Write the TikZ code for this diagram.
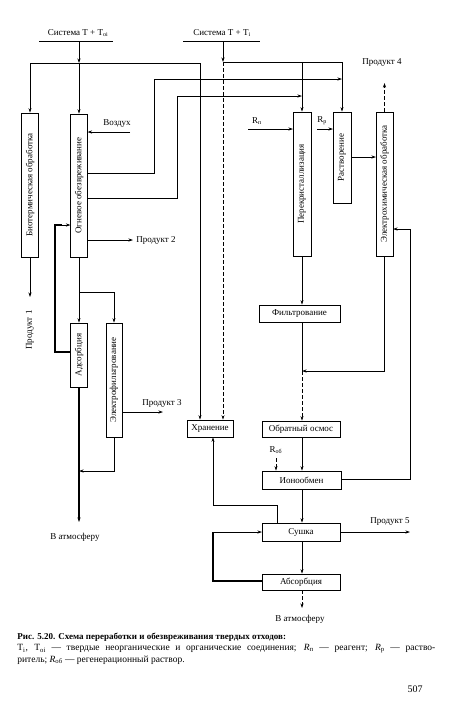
\documentclass[tikz,border=0pt]{standalone}
\usepackage{fontspec}
\setmainfont{Liberation Serif}
\usetikzlibrary{arrows.meta}
\begin{document}
\begin{tikzpicture}[x=1pt,y=-1pt,
  >={Stealth[length=4.5pt,width=3pt]},
  every path/.style={line width=0.7pt},
  lbl/.style={font=\fontsize{9}{10}\selectfont,inner sep=1pt},
  box/.style={draw,line width=0.7pt,inner sep=0pt,font=\fontsize{9}{10}\selectfont},
  vbox/.style n args={3}{box,minimum width=#1,minimum height=#2,
     label={[rotate=90,font=\fontsize{9}{10}\selectfont]center:#3}},
  hbox/.style 2 args={box,minimum width=#1,minimum height=#2},
  thk/.style={line width=1.3pt},
  dsh/.style={dash pattern=on 4pt off 2pt}]
\useasboundingbox[fill=white] (0,0) rectangle (450,705);

% boxes
\node[vbox={17pt}{144pt}{Биотермическая обработка}] (bio) at (30,185) {};
\node[vbox={17pt}{143pt}{Огневое обезвреживание}] (ogn) at (79,185.5) {};
\node[vbox={17pt}{64pt}{Адсорбция}] (ads) at (79,355) {};
\node[vbox={16pt}{114pt}{Электрофильтрование}] (elf) at (114,380) {};
\node[vbox={18pt}{144pt}{Перекристаллизация}] (perek) at (302,184) {};
\node[vbox={18pt}{91pt}{Растворение}] (rastv) at (342,157.5) {};
\node[vbox={17pt}{144pt}{Электрохимическая обработка}] (elch) at (384.5,184) {};
\node[hbox={46pt}{17pt}] (hran) at (210,428.5) {Хранение};
\node[hbox={81pt}{17pt}] (filt) at (299.5,313.5) {Фильтрование};
\node[hbox={78pt}{16pt}] (obros) at (301,429) {Обратный осмос};
\node[hbox={79pt}{18pt}] (ionob) at (301.5,480) {Ионообмен};
\node[hbox={78pt}{18pt}] (sush) at (301,532) {Сушка};
\node[hbox={78pt}{16pt}] (absorb) at (301,582) {Абсорбция};

% top inputs
\node[lbl] (sysL) at (78,33) {Система Т + Т\textsubscript{oi}};
\node[lbl] (sysR) at (222,33) {Система Т + Т\textsubscript{i}};
\coordinate (uL1) at (39,41); \coordinate (uL2) at (113,41);
\coordinate (uR1) at (183,41); \coordinate (uR2) at (260,41);
\draw (uL1) -- (uL2);
\draw (uR1) -- (uR2);

\coordinate (tL) at (79,41);
\coordinate (jL) at (79,63);
\coordinate (hL0) at (30,63);
\coordinate (hL1) at (200,63);
\draw[->] (tL) -- (jL);
\draw (hL0) -- (hL1);
\draw[->] (hL0) -- (hL0 |- bio.north);
\draw[->] (jL) -- (jL |- ogn.north);
\draw[->] (hL1) -- (hL1 |- hran.north);

\coordinate (tR) at (223,41);
\coordinate (jR) at (223,62);
\coordinate (hR1) at (342,62);
\coordinate (hR2) at (302,62);
\draw[->] (tR) -- (jR);
\draw (jR) -- (hR1);
\draw[->] (hR2) -- (perek.north);
\draw[->] (hR1) -- (rastv.north);
\draw[->,dsh] (jR) -- (jR |- hran.north);

% Огневое -> Растворение / Перекристаллизация
\coordinate (o1) at (87.5,173);
\coordinate (o1a) at (154,173);
\coordinate (o1b) at (154,79);
\coordinate (o1c) at (342,79);
\draw[->] (o1) -- (o1a) -- (o1b) -- (o1c);
\coordinate (o2) at (87.5,198);
\coordinate (o2a) at (177,198);
\coordinate (o2b) at (177,96);
\coordinate (o2c) at (302,96);
\draw[->] (o2) -- (o2a) -- (o2b) -- (o2c);

% Воздух
\coordinate (air0) at (130,132);
\coordinate (air1) at (87.5,132);
\draw[->] (air0) -- (air1);
\node[lbl] (airT) at (117,124) {Воздух};

% Продукт 2
\coordinate (p2a) at (87.5,240);
\coordinate (p2b) at (133,240);
\draw[->] (p2a) -- (p2b);
\node[lbl,anchor=west] (p2T) at (135,240) {Продукт 2};

% Продукт 1
\coordinate (p1) at (30,297);
\draw[->] (bio.south) -- (p1);
\node[lbl,rotate=90] (p1T) at (30,330) {Продукт 1};

% Огневое -> Адсорбция, Электрофильтрование
\draw[->] (ogn.south) -- (ads.north);
\coordinate (b1) at (79,292);
\coordinate (b2) at (114,292);
\draw[->] (b1) -- (b2) -- (elf.north);

% recycle Адсорбция -> Огневое
\coordinate (r0) at (70.5,352);
\coordinate (r1) at (55,352);
\coordinate (r2) at (55,225);
\coordinate (r2b) at (62,225);
\coordinate (r3) at (70.5,225);
\draw[thk] (r0) -- (r1) -- (r2) -- (r2b);
\draw[->] (r2b) -- (r3);

% Продукт 3
\coordinate (p3a) at (122,412);
\coordinate (p3b) at (163,412);
\draw[->] (p3a) -- (p3b);
\node[lbl] (p3T) at (162,403) {Продукт 3};

% Электрофильтрование -> back
\coordinate (e1) at (114,471);
\coordinate (e2) at (79,471);
\draw[->] (elf.south) -- (e1) -- (e2);

% В атмосферу (left)
\coordinate (atm1) at (79,522);
\draw[->,thk] (ads.south) -- (atm1);
\node[lbl] (atm1T) at (75,537) {В атмосферу};

% reagents
\coordinate (rn0) at (248,129);
\coordinate (rn1) at (293,129);
\draw[->] (rn0) -- (rn1);
\node[lbl] (rnT) at (257,121) {R\textsubscript{п}};
\coordinate (rp0) at (317,129);
\coordinate (rp1) at (333,129);
\draw[->] (rp0) -- (rp1);
\node[lbl] (rpT) at (322,121) {R\textsubscript{р}};

% Растворение -> Электрохим
\coordinate (rv0) at (351,157);
\coordinate (rv1) at (376,157);
\draw[->] (rv0) -- (rv1);

% Продукт 4
\coordinate (p4) at (384.5,83);
\draw[->,dsh] (elch.north) -- (p4);
\node[lbl] (p4T) at (382,63) {Продукт 4};

% Перекристаллизация -> Фильтрование -> Обратный осмос
\draw[->] (perek.south) -- (perek.south |- filt.north);
\coordinate (fj) at (302,371);
\draw (perek.south |- filt.south) -- (fj);
\draw[->,dsh] (fj) -- (fj |- obros.north);
\coordinate (ec1) at (384.5,371);
\draw[->] (elch.south) -- (ec1) -- (fj);

% Обратный осмос -> Ионообмен
\draw[->] (perek.south |- obros.south) -- (perek.south |- ionob.north);
\coordinate (rob0) at (276,458);
\draw[->,dsh] (rob0) -- (rob0 |- ionob.north);
\node[lbl] (robT) at (276,450) {R\textsubscript{об}};

% Ионообмен -> Электрохим
\coordinate (io0) at (341,479);
\coordinate (io1) at (410,479);
\coordinate (io2) at (410,229);
\coordinate (io3) at (393,229);
\draw[->] (io0) -- (io1) -- (io2) -- (io3);

% Ионообмен -> Сушка
\draw[->] (perek.south |- ionob.south) -- (perek.south |- sush.north);

% Сушка -> Хранение
\coordinate (s0) at (277,523);
\coordinate (s1) at (277,505);
\coordinate (s2) at (213,505);
\draw[->] (s0) -- (s1) -- (s2) -- (s2 |- hran.south);

% Продукт 5
\coordinate (p5a) at (340,532);
\coordinate (p5b) at (410,532);
\draw[->] (p5a) -- (p5b);
\node[lbl] (p5T) at (390,522) {Продукт 5};

% Сушка -> Абсорбция
\draw[->] (perek.south |- sush.south) -- (perek.south |- absorb.north);

% Абсорбция loop -> Сушка
\coordinate (a0) at (262,581);
\coordinate (a1) at (213,581);
\coordinate (a2) at (213,532);
\coordinate (a3) at (262,532);
\draw[thk] (a0) -- (a1) -- (a2);
\draw[->] (a2) -- (a3);

% В атмосферу (right)
\coordinate (atm2) at (302,608);
\draw[->,dsh] (perek.south |- absorb.south) -- (atm2);
\node[lbl] (atm2T) at (300,619) {В атмосферу};

% caption
\node[anchor=west,inner sep=0pt,font=\fontsize{9}{10}\selectfont\bfseries] (cap1) at (17,637)
  {Рис. 5.20. Схема переработки и обезвреживания твердых отходов:};
\node[anchor=west,inner sep=0pt,font=\fontsize{9.5}{10}\selectfont] (cap2) at (17,649)
  {\makebox[418pt][s]{Т\textsubscript{i}, Т\textsubscript{oi} — твердые неорганические и органические соединения; \textit{R}\textsubscript{п} — реагент; \textit{R}\textsubscript{р} — раство-}};
\node[anchor=west,inner sep=0pt,font=\fontsize{9.5}{10}\selectfont] (cap3) at (17,660)
  {ритель; \textit{R}\textsubscript{об} — регенерационный раствор.};
\node[font=\fontsize{10}{12}\selectfont] (page) at (415,689) {507};
\end{tikzpicture}
\end{document}
